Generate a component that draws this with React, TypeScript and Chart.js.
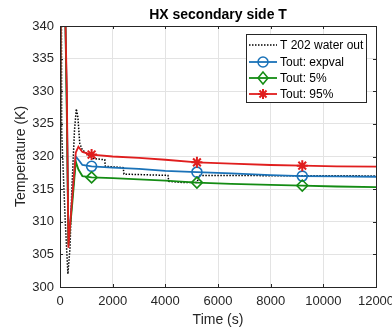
import React, { useEffect, useRef } from 'react';
import { Chart, registerables } from 'chart.js';

Chart.register(...registerables);

const titleText = 'HX secondary side T';
const xAxisLabel = 'Time (s)';
const yAxisLabel = 'Temperature (K)';
const legendLabels = ['T 202 water out', 'Tout: expval', 'Tout: 5%', 'Tout: 95%'];

const xMin = 0;
const xMax = 12000;
const xStep = 2000;
const yMin = 300;
const yMax = 340;
const yStep = 5;

// model output (time grid shared by the three model curves)
const modelTime = [0, 40, 100, 200, 260, 320, 450, 600, 700, 850, 1200, 2000, 3000, 4000, 5200, 6500, 8000, 9200, 10500, 12000];
const toutExpval = [315, 352, 350, 342, 328, 306.5, 313, 320.0, 319.5, 318.7, 318.5, 318.3, 318.1, 317.8, 317.6, 317.4, 317.15, 317.0, 316.95, 316.9];
const tout5 = [315, 352, 350, 342, 326, 306.5, 312, 319.2, 318.0, 317.0, 316.8, 316.7, 316.5, 316.3, 316.0, 315.8, 315.65, 315.55, 315.4, 315.3];
const tout95 = [315, 352, 350, 342, 330, 306, 313, 320.6, 321.5, 320.7, 320.3, 320.0, 319.8, 319.5, 319.1, 318.9, 318.7, 318.6, 318.5, 318.45];
const markerTimes = [1200, 5200, 9200];

// measurement T 202
const t202Time = [0, 55, 62, 120, 200, 300, 380, 450, 550, 620, 680, 750, 850, 1000, 1250, 1700, 1720, 2400, 2430, 4100, 4130, 4700, 5200, 5300, 9000, 11000, 12000];
const t202Temp = [345, 340, 324, 318, 310, 302, 306, 315, 324, 327.3, 326, 322, 321, 320.5, 319.7, 319.5, 318.5, 318.3, 317.3, 317.1, 316.2, 316.0, 316.0, 317.1, 317.05, 317.05, 317.0];

const colBlack = '#000000';
const colBlue = '#1a72b8';
const colGreen = '#148c14';
const colRed = '#e01e1e';
const axisCol = '#262626';
const gridCol = '#e3e3e3';
const fontFamily = '"Liberation Sans", Arial, Helvetica, sans-serif';

const toXY = (xs: number[], ys: number[]) => xs.map((x, i) => ({ x, y: ys[i] }));

const markerRadius = (r: number) => (ctx: any) => {
  const raw = ctx.raw as { x: number } | undefined;
  return raw && markerTimes.includes(raw.x) ? r : 0;
};

function drawStar(ctx: CanvasRenderingContext2D, x: number, y: number, r: number) {
  ctx.beginPath();
  ctx.moveTo(x - r, y); ctx.lineTo(x + r, y);
  ctx.moveTo(x, y - r); ctx.lineTo(x, y + r);
  const d = r * 0.7071;
  ctx.moveTo(x - d, y - d); ctx.lineTo(x + d, y + d);
  ctx.moveTo(x - d, y + d); ctx.lineTo(x + d, y - d);
  ctx.stroke();
}

const framePlugin = {
  id: 'matlabFrame',
  afterDraw(chart: any) {
    const ctx: CanvasRenderingContext2D = chart.ctx;
    const a = chart.chartArea;
    const xs = chart.scales.x;
    const ys = chart.scales.y;
    ctx.save();
    // box
    ctx.strokeStyle = axisCol;
    ctx.lineWidth = 1;
    ctx.strokeRect(Math.round(a.left) + 0.5, Math.round(a.top) + 0.5, Math.round(a.right - a.left), Math.round(a.bottom - a.top));
    // inward ticks
    const tl = 3;
    ctx.beginPath();
    for (let v = xMin; v <= xMax; v += xStep) {
      const px = Math.round(xs.getPixelForValue(v)) + 0.5;
      ctx.moveTo(px, a.bottom); ctx.lineTo(px, a.bottom - tl);
      ctx.moveTo(px, a.top); ctx.lineTo(px, a.top + tl);
    }
    for (let v = yMin; v <= yMax; v += yStep) {
      const py = Math.round(ys.getPixelForValue(v)) + 0.5;
      ctx.moveTo(a.left, py); ctx.lineTo(a.left + tl, py);
      ctx.moveTo(a.right, py); ctx.lineTo(a.right - tl, py);
    }
    ctx.stroke();

    // title
    ctx.fillStyle = '#000';
    ctx.font = `bold 14px ${fontFamily}`;
    ctx.textAlign = 'center';
    ctx.textBaseline = 'middle';
    ctx.fillText(titleText, (a.left + a.right) / 2, 15);

    // legend
    const lx = 246, ly = 34, lw = 120, lh = 68;
    ctx.fillStyle = '#ffffff';
    ctx.fillRect(lx, ly, lw, lh);
    ctx.strokeStyle = axisCol;
    ctx.lineWidth = 1;
    ctx.strokeRect(lx + 0.5, ly + 0.5, lw, lh);
    const rows = [45, 62, 78, 94];
    const x0 = 249, x1 = 277, xm = 263;
    ctx.font = `12px ${fontFamily}`;
    ctx.textAlign = 'left';
    rows.forEach((ry, i) => {
      ctx.save();
      if (i === 0) {
        ctx.strokeStyle = colBlack;
        ctx.lineWidth = 1.5;
        ctx.setLineDash([1.5, 1.5]);
        ctx.beginPath(); ctx.moveTo(x0, ry); ctx.lineTo(x1, ry); ctx.stroke();
      } else {
        const c = i === 1 ? colBlue : i === 2 ? colGreen : colRed;
        ctx.strokeStyle = c;
        ctx.lineWidth = 1.8;
        ctx.beginPath(); ctx.moveTo(x0, ry); ctx.lineTo(x1, ry); ctx.stroke();
        ctx.lineWidth = 1.5;
        if (i === 1) {
          ctx.beginPath(); ctx.arc(xm, ry, 5, 0, Math.PI * 2); ctx.stroke();
        } else if (i === 2) {
          ctx.beginPath();
          ctx.moveTo(xm, ry - 6); ctx.lineTo(xm + 5, ry); ctx.lineTo(xm, ry + 6); ctx.lineTo(xm - 5, ry); ctx.closePath();
          ctx.stroke();
        } else {
          ctx.lineWidth = 2;
          drawStar(ctx, xm, ry, 5);
        }
      }
      ctx.restore();
      ctx.fillStyle = '#000';
      ctx.fillText(legendLabels[i], 280, ry + 0.5);
    });
    ctx.restore();
  },
};

export default function App() {
  const ref = useRef<HTMLCanvasElement | null>(null);

  useEffect(() => {
    document.body.style.margin = '0';
    const canvas = ref.current;
    if (!canvas) return;
    const chart = new Chart(canvas, {
      type: 'line',
      data: {
        datasets: [
          {
            label: legendLabels[0],
            data: toXY(t202Time, t202Temp),
            borderColor: colBlack,
            borderWidth: 1.5,
            borderDash: [1.5, 1.5],
            pointRadius: 0,
            fill: false,
            order: 4,
          },
          {
            label: legendLabels[1],
            data: toXY(modelTime, toutExpval),
            borderColor: colBlue,
            borderWidth: 1.8,
            pointStyle: 'circle',
            pointRadius: markerRadius(5),
            pointBorderWidth: 1.6,
            pointBorderColor: colBlue,
            pointBackgroundColor: 'rgba(0,0,0,0)',
            fill: false,
            order: 3,
          },
          {
            label: legendLabels[2],
            data: toXY(modelTime, tout5),
            borderColor: colGreen,
            borderWidth: 1.8,
            pointStyle: 'rectRot',
            pointRadius: markerRadius(5.5),
            pointBorderWidth: 1.6,
            pointBorderColor: colGreen,
            pointBackgroundColor: 'rgba(0,0,0,0)',
            fill: false,
            order: 2,
          },
          {
            label: legendLabels[3],
            data: toXY(modelTime, tout95),
            borderColor: colRed,
            borderWidth: 1.8,
            pointStyle: 'star',
            pointRadius: markerRadius(5.5),
            pointBorderWidth: 2,
            pointBorderColor: colRed,
            pointBackgroundColor: colRed,
            fill: false,
            order: 1,
          },
        ],
      },
      options: {
        animation: false,
        responsive: false,
        devicePixelRatio: 1,
        layout: { padding: { left: 0, right: 44, top: 26, bottom: 0 } },
        plugins: {
          legend: { display: false },
          title: { display: false },
          tooltip: { enabled: false },
        },
        elements: { line: { tension: 0 } },
        scales: {
          x: {
            type: 'linear',
            min: xMin,
            max: xMax,
            afterFit: (s: any) => { s.height = 44; },
            ticks: {
              stepSize: xStep,
              color: '#262626',
              font: { family: fontFamily, size: 13 },
              padding: 7,
              maxRotation: 0,
              autoSkip: false,
              callback: (v: any) => String(v),
            },
            grid: { color: gridCol, drawTicks: false },
            border: { display: false },
            title: {
              display: true,
              text: xAxisLabel,
              color: '#262626',
              font: { family: fontFamily, size: 14 },
              padding: { top: 0, bottom: 2 },
            },
          },
          y: {
            type: 'linear',
            min: yMin,
            max: yMax,
            afterFit: (s: any) => { s.width = 60; },
            ticks: {
              stepSize: yStep,
              color: '#262626',
              font: { family: fontFamily, size: 13 },
              padding: 6,
              autoSkip: false,
              callback: (v: any) => String(v),
            },
            grid: { color: gridCol, drawTicks: false },
            border: { display: false },
            title: {
              display: true,
              text: yAxisLabel,
              color: '#262626',
              font: { family: fontFamily, size: 14 },
              padding: { top: 13, bottom: 0 },
            },
          },
        },
      },
      plugins: [framePlugin],
    });
    return () => chart.destroy();
  }, []);

  return (
    <div style={{ position: 'absolute', left: 0, top: 0, width: 392, height: 331, overflow: 'hidden', background: '#fff' }}>
      <canvas ref={ref} width={420} height={331} style={{ display: 'block', width: 420, height: 331 }} />
    </div>
  );
}
